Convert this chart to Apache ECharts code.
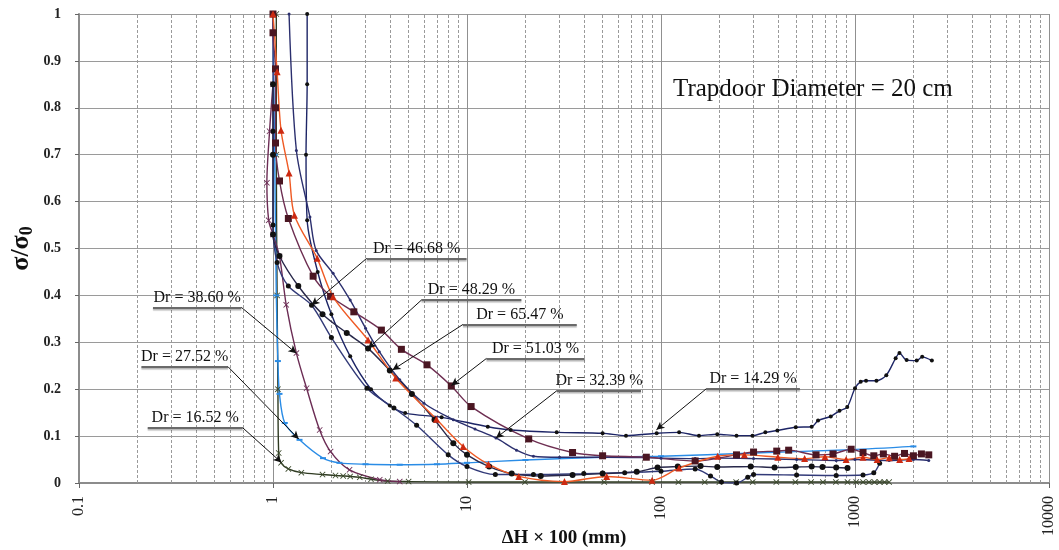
<!DOCTYPE html>
<html>
<head>
<meta charset="utf-8">
<script src="https://cdn.jsdelivr.net/npm/echarts@6/dist/echarts.min.js"></script>
<style>
html,body{margin:0;padding:0;background:#fff;}
#chart{width:1059px;height:550px;}
</style>
</head>
<body>
<div id="chart"></div>
<script>
// Axis settings
const xTickLabels = ['0.1', '1', '10', '100', '1000', '10000'];
const decades = [0.1, 1, 10, 100, 1000];
const minorSteps = [2, 3, 4, 5, 6, 7, 8, 9];

// Curves: [ΔH×100 (mm), σ/σ0]
const dr1429 = [[1.5,1.0],[1.5,0.85],[1.48,0.7],[1.5,0.56],[1.7,0.45],[2.0,0.36],[2.5,0.27],[3.2,0.2],[4.0,0.165],[4.8,0.149],[7.4,0.14],[12.8,0.12],[16.8,0.113],[29,0.108],[50,0.106],[66,0.101],[95,0.106],[124,0.108],[157,0.101],[195,0.104],[245,0.101],[296,0.101],[345,0.108],[398,0.112],[495,0.119],[598,0.12],[645,0.133],[750,0.142],[832,0.154],[912,0.162],[1000,0.202],[1070,0.216],[1140,0.218],[1290,0.218],[1450,0.23],[1620,0.266],[1695,0.277],[1846,0.262],[2080,0.261],[2220,0.269],[2490,0.261]];
const dr1652 = [[1.04,1.0],[1.04,0.7],[1.05,0.4],[1.06,0.2],[1.07,0.064],[1.1,0.043],[1.2,0.03],[1.4,0.022],[1.8,0.018],[2.1,0.016],[2.3,0.015],[2.5,0.014],[2.8,0.012],[3.2,0.008],[3.9,0.004],[5.0,0.003],[10.2,0.002],[19.9,0.002],[51,0.002],[90,0.002],[123,0.002],[168,0.002],[200,0.002],[244,0.002],[297,0.002],[393,0.002],[493,0.002],[594,0.002],[683,0.002],[797,0.002],[915,0.002],[1014,0.002],[1100,0.002],[1180,0.002],[1260,0.002],[1340,0.002],[1420,0.002],[1500,0.002]];
const dr2752 = [[1.0,1.0],[1.02,0.7],[1.04,0.4],[1.06,0.26],[1.08,0.19],[1.15,0.128],[1.37,0.092],[1.81,0.053],[2.2,0.043],[3,0.04],[4.5,0.039],[7,0.04],[10,0.043],[20,0.049],[50,0.055],[100,0.057],[300,0.064],[950,0.071],[2000,0.078]];
const dr3239 = [[1.21,1.0],[1.32,0.709],[1.55,0.567],[1.67,0.496],[2.04,0.447],[2.5,0.39],[3.0,0.33],[3.53,0.28],[4.5,0.22],[6,0.17],[8.5,0.135],[11,0.115],[14.1,0.096],[18,0.07],[22,0.057],[30,0.055],[50,0.055],[84,0.054],[100,0.053],[150,0.052],[200,0.053],[300,0.052],[500,0.05],[800,0.048],[1000,0.05],[1500,0.048],[2000,0.05],[2400,0.048]];
const dr3860 = [[1.0,0.85],[0.96,0.75],[0.93,0.64],[0.95,0.56],[1.0,0.53],[1.08,0.483],[1.17,0.38],[1.32,0.277],[1.49,0.202],[1.74,0.113],[1.98,0.067],[2.48,0.028],[3.55,0.007],[4.5,0.003]];
const dr4668 = [[1.0,1.0],[1.0,0.75],[1.0,0.55],[1.05,0.47],[1.2,0.42],[1.58,0.379],[2.0,0.31],[3.05,0.202],[4.2,0.16],[5.5,0.123],[8,0.06],[10,0.035],[14,0.018],[22,0.018],[40,0.02],[65,0.022],[100,0.025],[150,0.03],[180,0.015],[205,0.002],[245,0.0],[280,0.012],[300,0.018],[500,0.017],[800,0.016],[1100,0.017],[1250,0.022],[1340,0.042]];
const dr4829 = [[1.0,0.85],[1.0,0.7],[1.0,0.53],[1.08,0.484],[1.35,0.42],[1.8,0.36],[2.4,0.32],[3.09,0.287],[4,0.24],[5.2,0.19],[6.8,0.135],[8.5,0.085],[10,0.06],[13,0.035],[17,0.02],[24,0.015],[35,0.017],[50,0.02],[75,0.024],[96,0.033],[122,0.035],[160,0.036],[195,0.034],[290,0.035],[385,0.033],[495,0.034],[598,0.035],[680,0.034],[800,0.033],[915,0.032]];
const dr5103 = [[1.0,1.0],[1.0,0.96],[1.03,0.883],[1.03,0.8],[1.03,0.725],[1.08,0.644],[1.2,0.564],[1.61,0.441],[1.98,0.398],[2.61,0.365],[3.62,0.326],[4.59,0.285],[6.22,0.252],[8.3,0.207],[10.5,0.163],[20.8,0.094],[35,0.065],[50,0.058],[84,0.055],[150,0.047],[245,0.06],[300,0.066],[395,0.068],[455,0.07],[630,0.06],[770,0.062],[955,0.072],[1100,0.065],[1250,0.058],[1400,0.062],[1600,0.057],[1800,0.063],[2000,0.058],[2200,0.062],[2400,0.06]];
const dr6547 = [[1.0,1.0],[1.05,0.877],[1.1,0.752],[1.21,0.661],[1.29,0.571],[1.69,0.479],[2.04,0.397],[3.09,0.305],[4.29,0.224],[6.96,0.136],[9.55,0.078],[12.9,0.04],[18.5,0.014],[31.8,0.003],[52.5,0.014],[90,0.006],[124,0.032],[196,0.057],[269,0.06],[400,0.055],[550,0.052],[700,0.056],[900,0.05],[1100,0.055],[1300,0.05],[1500,0.054],[1700,0.05],[1900,0.052]];

// Callout annotations: text, underline x-extent, underline level, which end the leader starts from, arrow target
const calloutText = ['Dr = 46.68 %', 'Dr = 48.29 %', 'Dr = 65.47 %', 'Dr = 51.03 %', 'Dr = 32.39 %', 'Dr = 14.29 %', 'Dr = 38.60 %', 'Dr = 27.52 %', 'Dr = 16.52 %'];
const calloutSpan = [[3.04, 9.95], [5.82, 19.07], [9.53, 36.8], [12.59, 40.4], [29.1, 78.9], [170.8, 520], [0.2406, 0.687], [0.2097, 0.586], [0.226, 0.698]];
const calloutLevel = [0.479, 0.39, 0.338, 0.2655, 0.197, 0.2006, 0.3745, 0.248, 0.1177];
const calloutEnd = [0, 0, 0, 0, 0, 0, 1, 1, 1];
const calloutTarget = [[1.58, 0.379], [3.09, 0.287], [4.13, 0.241], [8.31, 0.208], [14.1, 0.0957], [94.7, 0.1134], [1.32, 0.2766], [1.357, 0.0936], [1.105, 0.0438]];

const SERIF = "'Liberation Serif', 'Times New Roman', serif";
const xPath = 'path://M0,1L1,0L5,4L9,0L10,1L6,5L10,9L9,10L5,6L1,10L0,9L4,5Z';

const curves = [
  { name: 'Dr = 14.29 %', data: dr1429, line: '#1d2566', mark: '#111111', symbol: 'circle', size: 4 },
  { name: 'Dr = 16.52 %', data: dr1652, line: '#2f3b22', mark: '#3b4a2c', symbol: xPath, size: 6 },
  { name: 'Dr = 27.52 %', data: dr2752, line: '#2a8ce6', mark: '#2a8ce6', symbol: 'rect', size: [6, 2] },
  { name: 'Dr = 32.39 %', data: dr3239, line: '#2b2f6e', mark: '#2b2f6e', symbol: 'circle', size: 3 },
  { name: 'Dr = 38.60 %', data: dr3860, line: '#6c2d55', mark: '#6c2d55', symbol: xPath, size: 6 },
  { name: 'Dr = 46.68 %', data: dr4668, line: '#323a78', mark: '#111111', symbol: 'circle', size: 5 },
  { name: 'Dr = 48.29 %', data: dr4829, line: '#28284a', mark: '#111111', symbol: 'circle', size: 6 },
  { name: 'Dr = 51.03 %', data: dr5103, line: '#6e2f52', mark: '#4a1622', symbol: 'rect', size: 7 },
  { name: 'Dr = 65.47 %', data: dr6547, line: '#ef5a24', mark: '#cc2a12', symbol: 'triangle', size: 7 }
];

// Minor vertical grid lines at 2..9 of each decade
const minorGrid = [];
decades.forEach(d => minorSteps.forEach(m => minorGrid.push(+(d * m).toPrecision(3))));

// Callout segments (underline with text + leader arrow)
const calloutLines = [];
calloutText.forEach((t, i) => {
  const [xl, xr] = calloutSpan[i];
  const y = calloutLevel[i];
  calloutLines.push([
    { coord: [xl, y], symbol: 'none',
      lineStyle: { color: '#6a6a6a', width: 2, type: 'solid', shadowColor: 'rgba(0,0,0,0.3)', shadowOffsetY: 1.5, shadowBlur: 1 },
      label: { show: true, formatter: t, position: 'insideMiddleTop', distance: 2,
               fontFamily: SERIF, fontSize: 16, color: '#111' } },
    { coord: [xr, y], symbol: 'none' }
  ]);
  const from = calloutEnd[i] === 0 ? xl : xr;
  calloutLines.push([
    { coord: [from, y], symbol: 'none', lineStyle: { color: '#111', width: 1, type: 'solid' }, label: { show: false } },
    { coord: calloutTarget[i], symbol: 'arrow', symbolSize: [6, 8] }
  ]);
});

const series = curves.map(c => ({
  name: c.name,
  type: 'line',
  data: c.data,
  smooth: 0.3,
  symbol: c.symbol,
  symbolSize: c.size,
  showAllSymbol: true,
  lineStyle: { color: c.line, width: 1.4 },
  itemStyle: { color: c.mark, borderWidth: 0 },
  z: 3
}));

series.push({
  name: 'minor-grid',
  type: 'line',
  data: [],
  z: 1,
  markLine: {
    silent: true,
    z: 1,
    symbol: 'none',
    label: { show: false },
    lineStyle: { color: '#9a9a9a', width: 1, type: [3, 2] },
    data: minorGrid.map(v => ({ xAxis: v }))
  }
});

series.push({
  name: 'callouts',
  type: 'line',
  data: [],
  z: 6,
  markLine: {
    silent: true,
    z: 6,
    symbol: 'none',
    label: { show: false },
    data: calloutLines
  }
});

const chart = echarts.init(document.getElementById('chart'), null, { renderer: 'canvas' });
chart.setOption({
  animation: false,
  backgroundColor: '#ffffff',
  title: {
    text: 'Trapdoor Diameter = 20 cm',
    left: 668, top: 72,
    textStyle: { fontFamily: SERIF, fontSize: 25, fontWeight: 'normal', color: '#111' }
  },
  grid: { left: 79, right: 10, top: 14, bottom: 67, containLabel: false, outerBoundsMode: 'none' },
  xAxis: {
    type: 'log', logBase: 10, min: 0.1, max: 10000,
    name: 'ΔH × 100 (mm)', nameLocation: 'middle', nameGap: 46, nameMoveOverlap: false,
    nameTextStyle: { fontFamily: SERIF, fontWeight: 'bold', fontSize: 19, color: '#111' },
    axisLine: { lineStyle: { color: '#8c8c8c', width: 2 } },
    axisTick: { show: true, length: 5, lineStyle: { color: '#666' } },
    axisLabel: {
      rotate: 90, margin: 13, fontFamily: SERIF, fontSize: 16, color: '#222',
      formatter: v => xTickLabels.find(s => Math.abs(parseFloat(s) - v) < 1e-9 * Math.max(1, v)) || ''
    },
    splitLine: { show: true, lineStyle: { color: '#909090', width: 1 } }
  },
  yAxis: {
    type: 'value', min: 0, max: 1, interval: 0.1,
    name: '{a|σ/σ}{b|0}', nameLocation: 'middle', nameGap: 43, nameRotate: 90, nameMoveOverlap: false,
    nameTextStyle: {
      rich: {
        a: { fontFamily: SERIF, fontWeight: 'bold', fontSize: 26, color: '#111' },
        b: { fontFamily: SERIF, fontWeight: 'bold', fontSize: 18, color: '#111', verticalAlign: 'bottom', padding: [12, 0, 0, 0] }
      }
    },
    axisLine: { show: true, lineStyle: { color: '#8c8c8c', width: 2 } },
    axisTick: { show: true, length: 4, lineStyle: { color: '#666' } },
    axisLabel: { fontFamily: SERIF, fontWeight: 'bold', fontSize: 14, color: '#222', margin: 18 },
    splitLine: { show: true, lineStyle: { color: '#9a9a9a', width: 1 } }
  },
  series: series
});
</script>
</body>
</html>
